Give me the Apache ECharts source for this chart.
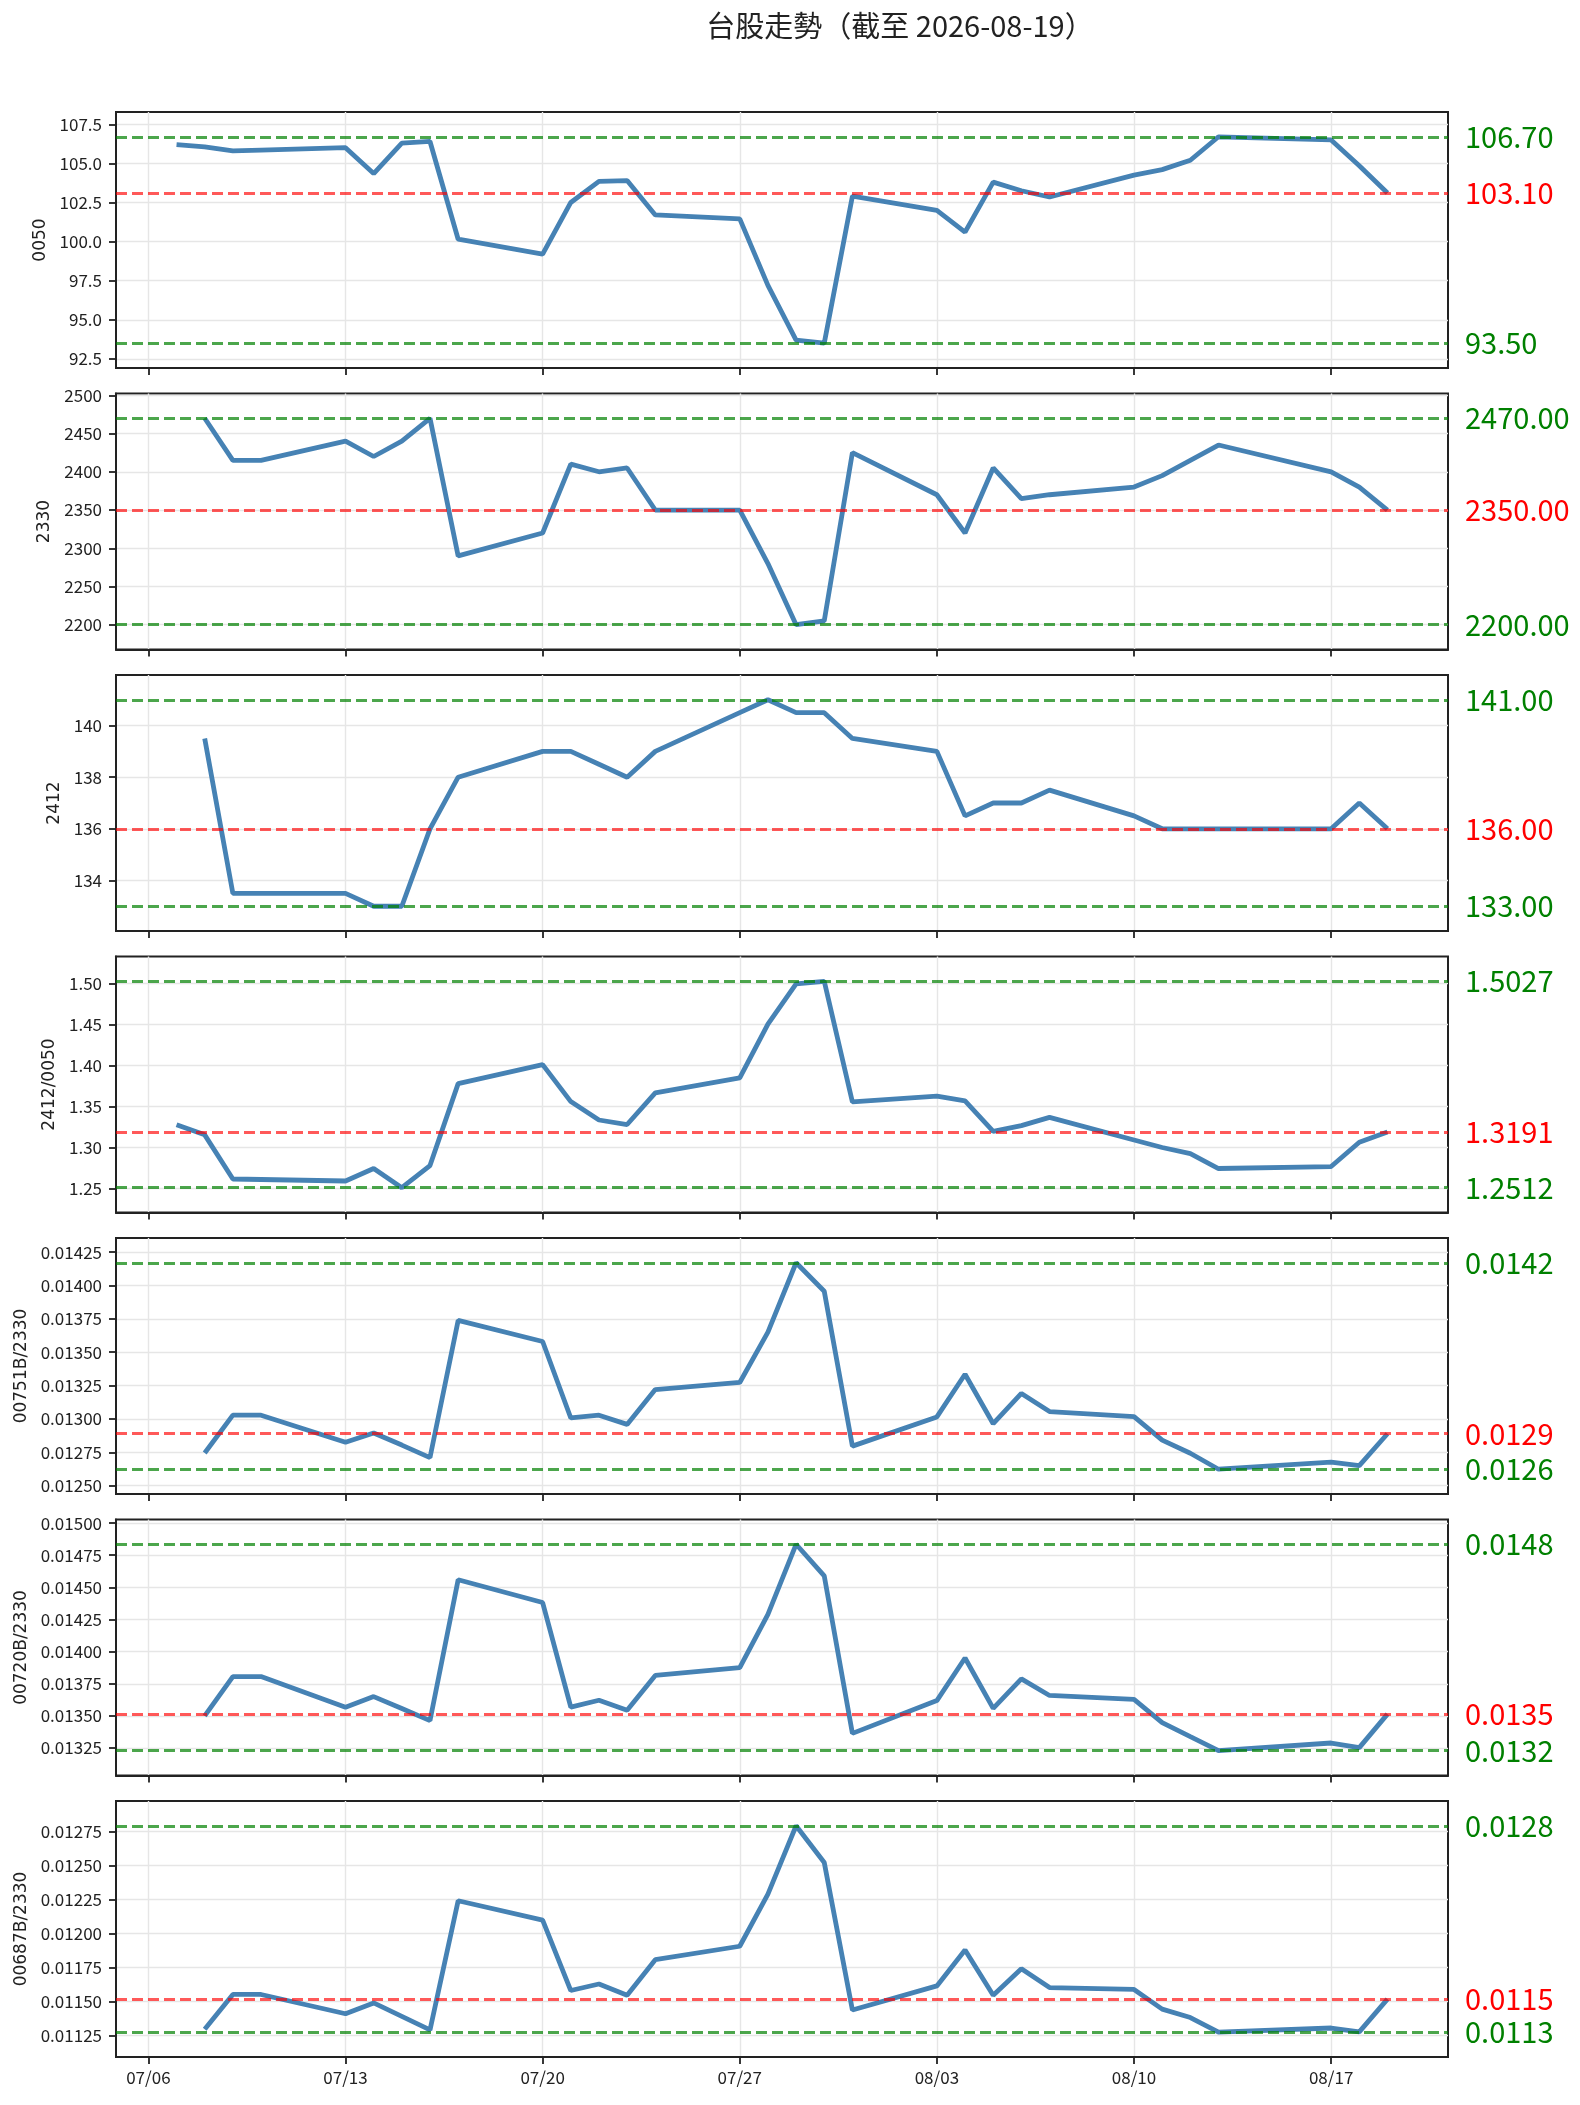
<!DOCTYPE html>
<html>
<head>
<meta charset="utf-8">
<script src="https://cdn.jsdelivr.net/npm/echarts@6/dist/echarts.min.js"></script>
<style>html, body { margin: 0; padding: 0; background: #fff; }</style>
</head>
<body>
<div id="main" style="width: 1580px; height: 2105px;"></div>
<script type="text/javascript">
    // Data
    var dates = ['2026-07-07', '2026-07-08', '2026-07-09', '2026-07-10',
        '2026-07-13', '2026-07-14', '2026-07-15', '2026-07-16', '2026-07-17',
        '2026-07-20', '2026-07-21', '2026-07-22', '2026-07-23', '2026-07-24',
        '2026-07-27', '2026-07-28', '2026-07-29', '2026-07-30', '2026-07-31',
        '2026-08-03', '2026-08-04', '2026-08-05', '2026-08-06', '2026-08-07',
        '2026-08-10', '2026-08-11', '2026-08-12', '2026-08-13',
        '2026-08-17', '2026-08-18', '2026-08-19'];

    var px0050 = [106.2, 106.05, 105.8, 105.85,
        106.0, 104.35, 106.3, 106.4, 100.15,
        99.2, 102.5, 103.85, 103.9, 101.7,
        101.45, 97.2, 93.7, 93.5, 102.9,
        102.0, 100.6, 103.8, 103.25, 102.85,
        104.25, 104.6, 105.2, 106.7,
        106.5, 104.85, 103.1];

    var px2330 = [null, 2470, 2415, 2415,
        2440, 2420, 2440, 2470, 2290,
        2320, 2410, 2400, 2405, 2350,
        2350, 2280, 2200, 2205, 2425,
        2370, 2320, 2405, 2365, 2370,
        2380, 2395, 2415, 2435,
        2400, 2380, 2350];

    var px2412 = [null, 139.5, 133.5, 133.5,
        133.5, 133, 133, 136, 138,
        139, 139, 138.5, 138, 139,
        140.5, 141, 140.5, 140.5, 139.5,
        139, 136.5, 137, 137, 137.5,
        136.5, 136, 136, 136,
        136, 137, 136];

    var ratio2412_0050 = [1.328, 1.3156, 1.2618, 1.2612,
        1.2594, 1.2746, 1.2512, 1.2782, 1.3780,
        1.4012, 1.3561, 1.3337, 1.3282, 1.3668,
        1.3849, 1.4506, 1.4995, 1.5027, 1.3557,
        1.3627, 1.3569, 1.3198, 1.3269, 1.3369,
        1.3094, 1.3002, 1.2928, 1.2746,
        1.2770, 1.3066, 1.3191];

    var ratio00751B_2330 = [null, 0.012745, 0.013028, 0.013028,
        0.012825, 0.012895, 0.012804, 0.01271, 0.013738,
        0.01358, 0.013007, 0.013028, 0.012959, 0.01322,
        0.013273, 0.01365, 0.01417, 0.013957, 0.012796,
        0.013015, 0.013335, 0.012964, 0.013191, 0.013055,
        0.013017, 0.012841, 0.012743, 0.012623,
        0.012676, 0.01265, 0.012889];

    var ratio00720B_2330 = [null, 0.0135, 0.013806, 0.013806,
        0.013568, 0.01365, 0.013557, 0.013463, 0.014559,
        0.014382, 0.013568, 0.013622, 0.013544, 0.013815,
        0.013875, 0.014289, 0.014835, 0.014589, 0.013364,
        0.013619, 0.01395, 0.013559, 0.013788, 0.013659,
        0.013629, 0.013448, 0.013338, 0.013229,
        0.013289, 0.013253, 0.013514];

    var ratio00687B_2330 = [null, 0.011295, 0.011551, 0.011551,
        0.011409, 0.011489, 0.01139, 0.01129, 0.012241,
        0.012099, 0.01158, 0.011628, 0.011545, 0.011807,
        0.011906, 0.01229, 0.012793, 0.012523, 0.011437,
        0.011614, 0.011878, 0.011545, 0.011741, 0.011602,
        0.011588, 0.011443, 0.011381, 0.011273,
        0.011304, 0.011276, 0.011517];

    // tick labels
    var xTicks = ['2026-07-06', '2026-07-13', '2026-07-20', '2026-07-27', '2026-08-03', '2026-08-10', '2026-08-17'];
    var ticks0050 = ['92.5', '95.0', '97.5', '100.0', '102.5', '105.0', '107.5'];
    var ticks2330 = ['2200', '2250', '2300', '2350', '2400', '2450', '2500'];
    var ticks2412 = ['134', '136', '138', '140'];
    var ticksR1 = ['1.25', '1.30', '1.35', '1.40', '1.45', '1.50'];
    var ticksR2 = ['0.01250', '0.01275', '0.01300', '0.01325', '0.01350', '0.01375', '0.01400', '0.01425'];
    var ticksR3 = ['0.01325', '0.01350', '0.01375', '0.01400', '0.01425', '0.01450', '0.01475', '0.01500'];
    var ticksR4 = ['0.01125', '0.01150', '0.01175', '0.01200', '0.01225', '0.01250', '0.01275'];

    var names = ['0050', '2330', '2412', '2412/0050', '00751B/2330', '00720B/2330', '00687B/2330'];
    var seriesValues = [px0050, px2330, px2412, ratio2412_0050, ratio00751B_2330, ratio00720B_2330, ratio00687B_2330];
    var tickLists = [ticks0050, ticks2330, ticks2412, ticksR1, ticksR2, ticksR3, ticksR4];
    var refDigits = [2, 2, 2, 4, 4, 4, 4];

    // layout
    var nameGaps = [65, 62, 52, 56, 83, 83, 83];
    var gridLeft = 116, gridRight = 132, gridTop0 = 112, gridStep = 281.5, gridH = 256;
    var INK = '#222222';
    var CJK = '"Noto Sans CJK TC", "Noto Sans CJK SC", sans-serif';

    // dates as day numbers on a plain value axis
    function dayNum(s) {
        var p = s.split('-');
        return Date.UTC(+p[0], +p[1] - 1, +p[2]) / 86400000;
    }
    function mmdd(v) {
        var d = new Date(Math.round(v) * 86400000);
        var m = d.getUTCMonth() + 1, day = d.getUTCDate();
        return (m < 10 ? '0' : '') + m + '/' + (day < 10 ? '0' : '') + day;
    }
    var dayVals = dates.map(dayNum);
    var xTickVals = xTicks.map(dayNum);
    var x0 = dayVals[0], x1 = dayVals[dayVals.length - 1];
    var xPad = (x1 - x0) * 0.05;

    var grids = [], xAxes = [], yAxes = [], series = [];
    names.forEach(function (name, i) {
        var vals = seriesValues[i].filter(function (v) { return v != null; });
        var lo = Math.min.apply(null, vals), hi = Math.max.apply(null, vals);
        var last = vals[vals.length - 1];
        var pad = (hi - lo) * 0.12;
        var tickStr = tickLists[i];
        var tickNum = tickStr.map(parseFloat);

        grids.push({
            left: gridLeft, right: gridRight, top: gridTop0 + gridStep * i, height: gridH,
            show: true, borderColor: INK, borderWidth: 2, backgroundColor: 'transparent',
            containLabel: false
        });

        xAxes.push({
            type: 'value', gridIndex: i,
            min: x0 - xPad, max: x1 + xPad,
            axisLine: { show: true, onZero: false, lineStyle: { color: INK, width: 2 } },
            axisTick: { show: true, length: 7, customValues: xTickVals, lineStyle: { color: INK, width: 1.8 } },
            axisLabel: {
                show: i === names.length - 1, customValues: xTickVals, margin: 12,
                color: INK, fontSize: 17, fontFamily: CJK,
                formatter: function (v) { return mmdd(v); }
            },
            splitLine: { show: true, lineStyle: { color: '#e6e6e6', width: 1.4 } }
        });

        yAxes.push({
            type: 'value', gridIndex: i, scale: true,
            min: lo - pad, max: hi + pad,
            name: name, nameLocation: 'middle', nameGap: nameGaps[i],
            nameTextStyle: { color: INK, fontSize: 17, fontFamily: '"DejaVu Sans", sans-serif' },
            axisLine: { show: true, onZero: false, lineStyle: { color: INK, width: 2 } },
            axisTick: { show: true, length: 7, customValues: tickNum, lineStyle: { color: INK, width: 1.8 } },
            axisLabel: {
                customValues: tickNum, margin: 14, color: INK, fontSize: 17, fontFamily: CJK,
                formatter: function (v) {
                    for (var k = 0; k < tickNum.length; k++) {
                        if (Math.abs(tickNum[k] - v) < 1e-9) return tickStr[k];
                    }
                    return '';
                }
            },
            splitLine: { show: true, lineStyle: { color: '#e6e6e6', width: 1.4 } }
        });

        // dashed reference line with its value printed right of the frame
        function refLine(v, col, textCol) {
            return {
                yAxis: v,
                lineStyle: { color: col, type: [11, 5], width: 3.2 },
                label: {
                    show: true, position: 'end', distance: 17,
                    formatter: v.toFixed(refDigits[i]),
                    padding: [0, 0, 7, 0],
                    color: textCol, fontSize: 29, fontFamily: CJK
                }
            };
        }

        series.push({
            name: name, type: 'line',
            xAxisIndex: i, yAxisIndex: i,
            data: dayVals.map(function (d, k) { return [d, seriesValues[i][k]]; }),
            showSymbol: false, symbol: 'none',
            lineStyle: { color: '#4682b4', width: 4.8 },
            itemStyle: { color: '#4682b4' },
            markLine: {
                silent: true, symbol: ['none', 'none'], precision: 8,
                data: [
                    refLine(hi, 'rgba(0,128,0,0.7)', '#008000'),
                    refLine(lo, 'rgba(0,128,0,0.7)', '#008000'),
                    refLine(last, 'rgba(255,0,0,0.65)', '#ff0000')
                ]
            }
        });
    });

    var chart = echarts.init(document.getElementById('main'));
    chart.setOption({
        animation: false,
        backgroundColor: '#ffffff',
        title: {
            text: '台股走勢（截至 2026-08-19）',
            left: 900, top: 11, textAlign: 'center', padding: 0,
            textStyle: { color: INK, fontSize: 29, fontWeight: 'normal', fontFamily: CJK }
        },
        grid: grids,
        xAxis: xAxes,
        yAxis: yAxes,
        series: series
    });
</script>
</body>
</html>
